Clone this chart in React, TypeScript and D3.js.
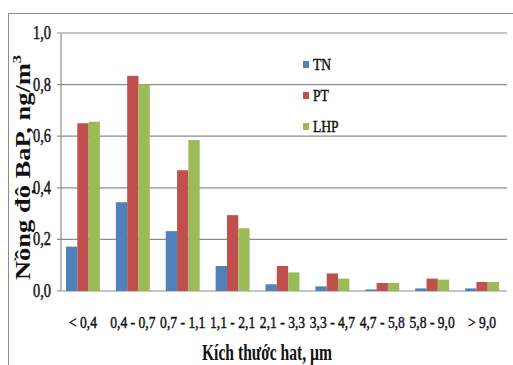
import React from "react";
import * as d3 from "d3";

const categories = ["< 0,4", "0,4 - 0,7", "0,7 - 1,1", "1,1 - 2,1", "2,1 - 3,3", "3,3 - 4,7", "4,7 - 5,8", "5,8 - 9,0", "> 9,0"];
const seriesNames = ["TN", "PT", "LHP"];
const tnValues = [0.172, 0.344, 0.232, 0.097, 0.026, 0.018, 0.006, 0.01, 0.01];
const ptValues = [0.65, 0.834, 0.468, 0.294, 0.097, 0.068, 0.031, 0.048, 0.035];
const lhpValues = [0.656, 0.802, 0.585, 0.243, 0.072, 0.048, 0.031, 0.044, 0.035];
const yTicks = [0, 0.2, 0.4, 0.6, 0.8, 1.0];
const colors = ["#4F81BD", "#C0504D", "#9BBB59"];

const W = 513;
const H = 365;
const plot = { left: 61, right: 507, top: 33, bottom: 291 };
const font = "'Liberation Serif', 'Times New Roman', serif";
const ink = "#111";

export default function App() {
  const series = [tnValues, ptValues, lhpValues];
  const x = d3.scaleBand<string>().domain(categories).range([plot.left - 3, plot.right]).paddingInner(0.32).paddingOuter(0.16);
  const xi = d3.scaleBand<string>().domain(seriesNames).range([0, x.bandwidth()]);
  const y = d3.scaleLinear().domain([0, 1]).range([plot.bottom, plot.top]);
  const fmt = (v: number) => d3.format(".1f")(v).replace(".", ",");

  return (
    <svg width={W} height={H} style={{ position: "absolute", left: 0, top: 0, background: "#fff" }}>
      {/* frame */}
      <line x1={8} x2={W} y1={13.5} y2={13.5} stroke="#8c8c8c" strokeWidth={1} />
      <line x1={8.5} x2={8.5} y1={13.5} y2={H} stroke="#8c8c8c" strokeWidth={1} />

      {/* gridlines and y ticks */}
      {yTicks.map((t) => (
        <g key={t}>
          <line x1={plot.left - 4} x2={plot.right} y1={y(t)} y2={y(t)} stroke="#8c8c8c" strokeWidth={1.2} />
          <text
            transform={`translate(${51},${y(t) + 6}) scale(0.8,1)`}
            textAnchor="end"
            fontFamily={font}
            fontSize={18}
            fill={ink}
            stroke={ink}
            strokeWidth={0.45}
          >
            {fmt(t)}
          </text>
        </g>
      ))}
      <line x1={plot.left} x2={plot.left} y1={plot.top} y2={plot.bottom} stroke="#8c8c8c" strokeWidth={1.2} />

      {/* bars */}
      {categories.map((c, i) => (
        <g key={c}>
          {series.map((vals, s) => (
            <rect
              key={s}
              x={(x(c) ?? 0) + (xi(seriesNames[s]) ?? 0)}
              y={y(vals[i])}
              width={xi.bandwidth()}
              height={y(0) - y(vals[i])}
              fill={colors[s]}
            />
          ))}
          <text
            transform={`translate(${(x(c) ?? 0) + x.bandwidth() / 2},${328}) scale(0.8,1)`}
            textAnchor="middle"
            fontFamily={font}
            fontSize={17}
            fill={ink}
            stroke={ink}
            strokeWidth={0.45}
          >
            {c}
          </text>
        </g>
      ))}

      {/* legend */}
      {seriesNames.map((n, s) => (
        <g key={n} transform={`translate(303,${64.5 + s * 31})`}>
          <rect x={0} y={-3.5} width={6} height={7} fill={colors[s]} />
          <text transform={`translate(10,5.5) scale(0.8,1)`} fontFamily={font} fontSize={17} fill={ink} stroke={ink} strokeWidth={0.45}>
            {n}
          </text>
        </g>
      ))}

      {/* axis titles */}
      <text
        transform={`translate(30,167.5) rotate(-90)`}
        textAnchor="middle"
        fontFamily={font}
        fontWeight="bold"
        fontSize={21}
        fill={ink}
        textLength={225}
        lengthAdjust="spacingAndGlyphs"
      >
        Nồng độ BaP, ng/m<tspan dy={-9} fontSize={13}>3</tspan>
      </text>
      <text
        transform={`translate(267,360)`}
        textAnchor="middle"
        fontFamily={font}
        fontWeight="bold"
        fontSize={23}
        fill={ink}
        textLength={130}
        lengthAdjust="spacingAndGlyphs"
      >
        Kích thước hat, µm
      </text>
    </svg>
  );
}
